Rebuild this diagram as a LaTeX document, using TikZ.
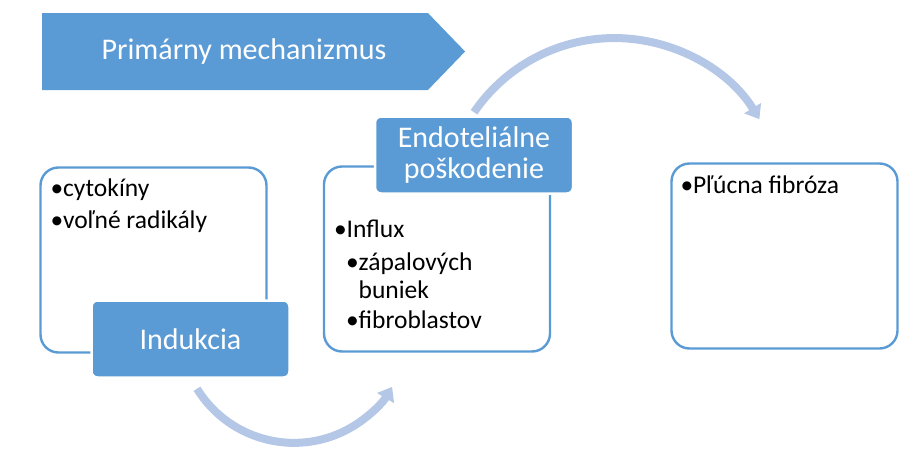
\documentclass[tikz,border=0pt]{standalone}
\usepackage{fontspec}
\setmainfont{Carlito}
\usetikzlibrary{shapes.symbols, arrows.meta, positioning}
\definecolor{boxblue}{RGB}{91,155,213}
\definecolor{arcblue}{RGB}{180,199,231}

\begin{document}
\begin{tikzpicture}[x=1pt, y=1pt,
    panel/.style={rectangle, draw=boxblue, line width=2.4pt, rounded corners=18pt, fill=white, minimum width=226pt, minimum height=185pt},
    tag/.style={rectangle, draw=white, line width=2.5pt, fill=boxblue, rounded corners=6pt, text=white, align=center, minimum width=198pt, minimum height=77pt, font=\fontsize{30}{31}\selectfont},
    item/.style={anchor=north west, inner sep=0pt, align=left, font=\fontsize{25.5}{28}\selectfont},
    flow/.style={draw=arcblue, line width=8pt, -{Triangle[length=13pt, width=19pt]}}]
  \useasboundingbox (0,0) rectangle (920,-463);

  % banner
  \node[signal, signal to=east, signal pointer angle=92, fill=boxblue, text=white, minimum width=423pt, minimum height=77pt, font=\fontsize{30}{30}\selectfont] (banner) at (235,-51.5) {\hspace*{18pt}Primárny mechanizmus};

  % three stages
  \node[panel] (box1) at (153.5,-260) {};
  \node[panel] (box2) at (437,-259) {};
  \node[panel] (box3) at (784.5,-256) {};

  \node[tag] (ind) at (190.5,-339) {Indukcia};
  \node[tag] (endo) at (474,-155) {Endoteliálne\\poškodenie};

  % bullet texts
  \node[item] (txt1) at ([shift={(11,-12)}]box1.north west) {•cytokíny\\[4pt]•voľné radikály};
  \node[item] (txt2) at ([shift={(11,-54)}]box2.north west) {•Influx\\[5pt]\hspace*{12pt}•zápalových\\\hspace*{12pt}\phantom{•}buniek\\[2pt]\hspace*{12pt}•fibroblastov};
  \node[item] (txt3) at ([shift={(10,-13)}]box3.north west) {•Pľúcna fibróza};

  % curved arrows
  \coordinate (arcA) at ([shift={(6.5,-10)}]ind.south);
  \coordinate (arcB) at ([yshift=3pt]endo.north);
  \draw[flow] (arcA) arc[start angle=-148.3, end angle=-30.6, radius=114];
  \draw[flow] (arcB) arc[start angle=145.7, end angle=31.5, radius=170];
\end{tikzpicture}
\end{document}
